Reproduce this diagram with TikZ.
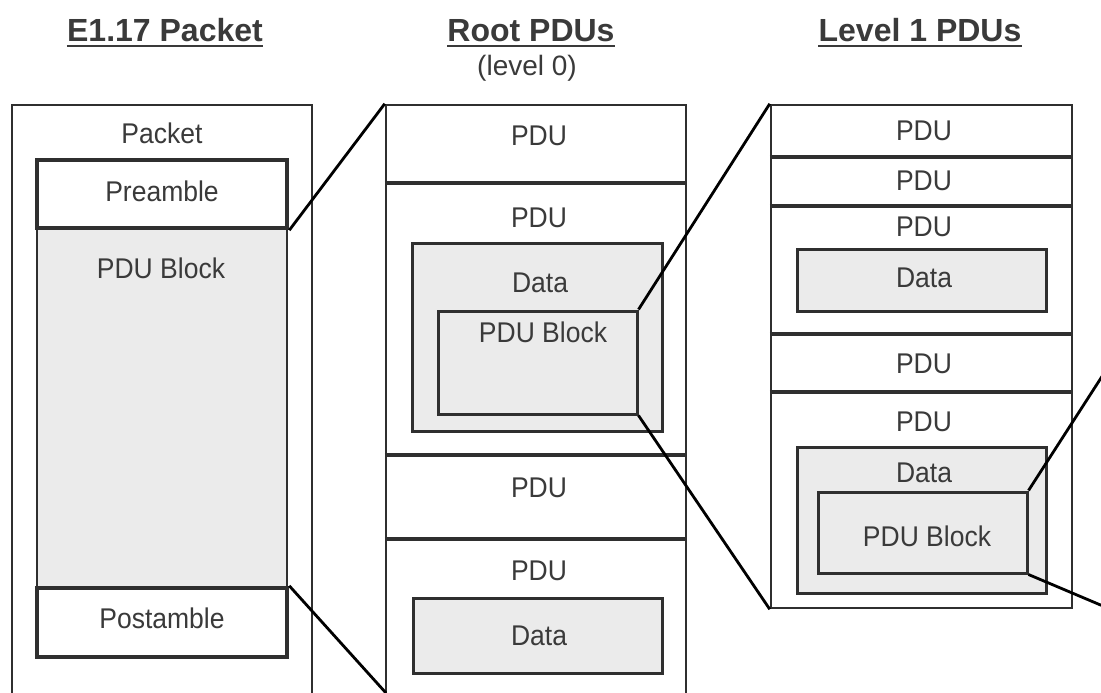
\documentclass[tikz,border=0pt]{standalone}
\usepackage{fontspec}
\newfontfamily\tf{Liberation Sans}
\newfontfamily\nf[FakeStretch=0.93]{Liberation Sans}
\usetikzlibrary{fit}
\definecolor{linec}{HTML}{2F2F2F}
\definecolor{txtc}{HTML}{3A3A3A}
\definecolor{gfill}{HTML}{EBEBEB}
\begin{document}
\begin{tikzpicture}[x=1pt,y=-1pt,
  colbox/.style={draw=linec,line width=2.5pt,inner sep=0pt,fill=white},
  thickbox/.style={draw=linec,line width=4.5pt,inner sep=0pt,fill=white},
  blockbox/.style={draw=linec,line width=2.5pt,inner sep=0pt,fill=gfill},
  databox/.style={draw=linec,line width=3pt,inner sep=0pt,fill=gfill},
  divider/.style={draw=linec,line width=4.5pt},
  conn/.style={draw=black,line width=2.8pt},
  lbl/.style={font=\nf\fontsize{28.5}{32}\selectfont,text=txtc,inner sep=0pt},
  ttl/.style={font=\tf\bfseries\fontsize{32}{38}\selectfont,text=txtc,inner sep=0pt,anchor=base},
  uline/.style={draw=txtc,line width=2pt}]
\useasboundingbox (0,0) rectangle (1101,693);
\clip (0,0) rectangle (1101,693);
\fill[white] (0,0) rectangle (1101,693);

% titles
\node[ttl] (t1) at (165,41.7) {E1.17 Packet};
\node[ttl] (t2) at (531,41.7) {Root PDUs};
\node[ttl] (t3) at (920,41.7) {Level 1 PDUs};
\draw[uline] ([yshift=-4pt]t1.base west) -- ([yshift=-4pt]t1.base east);
\draw[uline] ([yshift=-4pt]t2.base west) -- ([yshift=-4pt]t2.base east);
\draw[uline] ([yshift=-4pt]t3.base west) -- ([yshift=-4pt]t3.base east);
\node[font=\tf\fontsize{28}{32}\selectfont,text=txtc,inner sep=0pt,anchor=base] (lv0) at (527,76) {(level 0)};

% E1.17 packet
\node[colbox,fit={(12,105) (312,720)}] (packet) {};
\node[blockbox,fit={(37,228) (287,588)}] (blk) {};
\node[thickbox,fit={(37,160) (287,228)}] (pre) {};
\node[thickbox,fit={(37,588) (287,657)}] (post) {};
\node[lbl] (lpacket) at (162,133) {Packet};
\node[lbl] (lpre) at (162,191) {Preamble};
\node[lbl] (lblk) at (161,268) {PDU Block};
\node[lbl] (lpost) at (162,618) {Postamble};

% Root PDUs
\node[colbox,fit={(386,105) (686,720)}] (root) {};
\draw[divider] (root.west |- 0,183) -- (root.east |- 0,183);
\draw[divider] (root.west |- 0,455) -- (root.east |- 0,455);
\draw[divider] (root.west |- 0,539) -- (root.east |- 0,539);
\node[databox,fit={(412,243) (662,431)}] (rdata) {};
\node[databox,fit={(438,311) (637,414)}] (rpb) {};
\node[databox,fit={(413,598) (662,673)}] (rdata2) {};
\node[lbl] (r1) at (539,136) {PDU};
\node[lbl] (r2) at (539,218) {PDU};
\node[lbl] (rd) at (540,283) {Data};
\node[lbl] (rpbl) at (543,332) {PDU Block};
\node[lbl] (r3) at (539,488) {PDU};
\node[lbl] (r4) at (539,571) {PDU};
\node[lbl] (rd2) at (539,636) {Data};
\coordinate (rootbl) at (386,693);

% Level 1 PDUs
\node[colbox,fit={(771,105) (1072,608)}] (l1) {};
\draw[divider] (l1.west |- 0,157) -- (l1.east |- 0,157);
\draw[divider] (l1.west |- 0,206) -- (l1.east |- 0,206);
\draw[divider] (l1.west |- 0,334) -- (l1.east |- 0,334);
\draw[divider] (l1.west |- 0,392) -- (l1.east |- 0,392);
\node[databox,fit={(797,249) (1046,311)}] (ldata) {};
\node[databox,fit={(797,447) (1046,593)}] (ldata2) {};
\node[databox,fit={(818,492) (1027,573)}] (lpb) {};
\node[lbl] (p1) at (924,131) {PDU};
\node[lbl] (p2) at (924,181) {PDU};
\node[lbl] (p3) at (924,227) {PDU};
\node[lbl] (pd) at (924,278) {Data};
\node[lbl] (p4) at (924,364) {PDU};
\node[lbl] (p5) at (924,422) {PDU};
\node[lbl] (pd2) at (924,473) {Data};
\node[lbl] (lpbl) at (927,536) {PDU Block};
\coordinate (out1) at (1110,364);
\coordinate (out2) at (1110,609);

% connectors
\draw[conn] (pre.south east) -- (root.north west);
\draw[conn] (post.north east) -- (rootbl);
\draw[conn] (rpb.north east) -- (l1.north west);
\draw[conn] (rpb.south east) -- (l1.south west);
\draw[conn] (lpb.north east) -- (out1);
\draw[conn] (lpb.south east) -- (out2);
\end{tikzpicture}
\end{document}
